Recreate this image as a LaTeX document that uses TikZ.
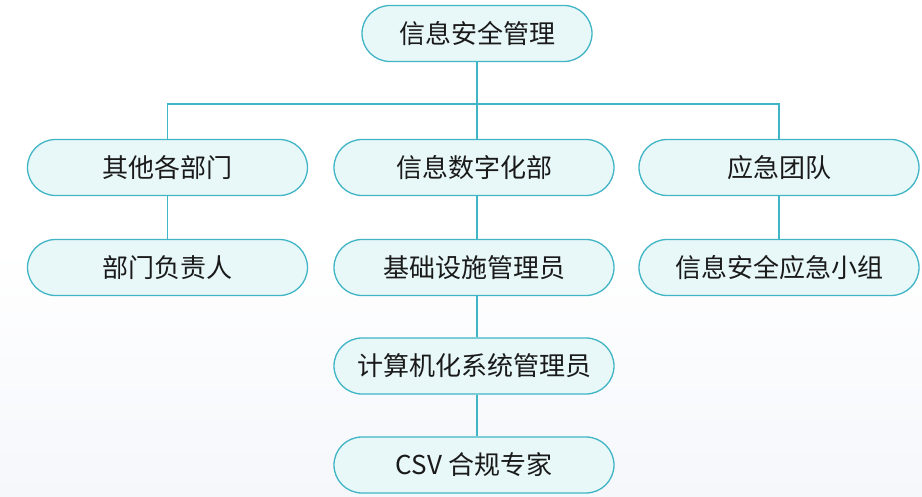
\documentclass[tikz,border=0pt]{standalone}
\usepackage{fontspec}
\setmainfont{Noto Sans CJK SC}
\begin{document}
\definecolor{edgec}{HTML}{40B5C5}
\definecolor{fillc}{HTML}{E8F7F8}
\definecolor{txt}{HTML}{1A1A1A}
\definecolor{bgbot}{HTML}{F5F7FB}
\begin{tikzpicture}[x=1pt,y=-1pt,
  box/.style={draw=edgec, line width=1.3pt, fill=fillc, rounded corners=28pt,
    minimum width=280pt, minimum height=56pt, inner sep=0pt, text=txt,
    font=\fontsize{26pt}{30pt}\selectfont},
  link/.style={draw=edgec, line width=1.3pt}]
\shade[top color=white, bottom color=bgbot, middle color=white, shading angle=0] (0,0) rectangle (922,497);
\useasboundingbox (0,0) rectangle (922,497);
\node[box, minimum width=230pt] (root) at (477,33.5) {信息安全管理};
\node[box] (a1) at (167.5,167.5) {其他各部门};
\node[box] (b1) at (474,167.5) {信息数字化部};
\node[box] (c1) at (779,167.5) {应急团队};
\node[box] (a2) at (167.5,267.5) {部门负责人};
\node[box] (b2) at (474,267.5) {基础设施管理员};
\node[box] (c2) at (779,267.5) {信息安全应急小组};
\node[box] (b3) at (474,366) {计算机化系统管理员};
\node[box] (b4) at (474,465) {CSV 合规专家};
\coordinate (hub) at (477,104);
\draw[link] (root.south) -- (hub);
\draw[link] (hub) -| (a1.north);
\draw[link] (hub) -| (c1.north);
\draw[link] (hub) -- (hub |- b1.north);
\draw[link] (a1) -- (a2);
\draw[link] (c1) -- (c2);
\draw[link] (b1.south -| hub) -- (b2.north -| hub);
\draw[link] (b2.south -| hub) -- (b3.north -| hub);
\draw[link] (b3.south -| hub) -- (b4.north -| hub);
\end{tikzpicture}
\end{document}
